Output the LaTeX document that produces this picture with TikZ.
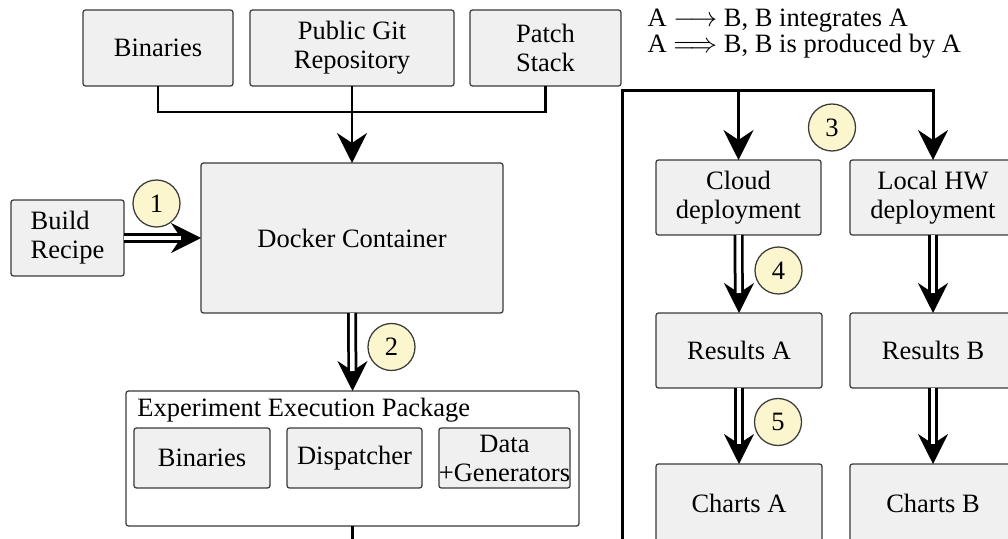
\documentclass[tikz,border=0pt]{standalone}
\usepackage{fontspec}
\setmainfont{Liberation Serif}
\newfontfamily\tnr{Liberation Serif}
\usetikzlibrary{arrows.meta,calc}

\definecolor{boxfill}{HTML}{F0F0F0}
\definecolor{boxline}{HTML}{3A3A3A}
\definecolor{stepfill}{HTML}{FCF6CF}

\tikzset{
  txt/.style={font=\tnr\fontsize{10.6}{11.6}\selectfont},
  sz/.style 2 args={minimum width=#1*0.4pt, minimum height=#2*0.4pt},
  blk/.style={draw=boxline, fill=boxfill, line width=0.5pt, rounded corners=1pt,
              inner sep=0pt, outer sep=0pt, align=center, txt},
  frame/.style={draw=boxline, fill=white, line width=0.5pt, rounded corners=1pt,
              inner sep=0pt, outer sep=0pt},
  stepnum/.style={circle, draw=boxline, fill=stepfill, line width=0.5pt,
              minimum size=18.8pt, inner sep=0pt, txt},
  conn/.style={line width=1pt},
  bigtip/.style={-{Stealth[length=12pt,width=12pt,inset=4pt]}},
  arr/.style={conn, bigtip},
  dbl/.style={double, line width=1.1pt, double distance=1.8pt, shorten >=8pt},
  tiponly/.style={line width=0.8pt, bigtip},
}

\begin{document}
\begin{tikzpicture}[x=0.4pt, y=-0.4pt]
  \clip (0,0) rectangle (1008,539);
  \fill[white] (0,0) rectangle (1008,539);

  % sources
  \node[blk, sz={150}{76}] (bin)   at (158,48)   {Binaries};
  \node[blk, sz={204}{76}] (git)   at (352,48)   {Public Git\\Repository};
  \node[blk, sz={151}{76}] (patch) at (545.5,48) {Patch\\Stack};

  % build
  \node[blk, sz={302}{150}] (docker) at (352,238) {Docker Container};
  \node[blk, sz={113}{76}, align=left] (recipe) at (67.5,238) {Build\\Recipe};

  % execution package
  \node[frame, sz={453}{135}] (pkg) at (352.5,458.5) {};
  \node[anchor=west, inner sep=0pt, txt] (pkgtitle) at (137,410) {Experiment Execution Package};
  \node[blk, sz={136}{60}] (ibin)  at (202,458)   {Binaries};
  \node[blk, sz={135}{60}] (idisp) at (354.5,458) {Dispatcher};
  \node[blk, sz={131}{60}] (idata) at (504.5,458) {Data\\+Generators};

  % deployments
  \node[blk, sz={165}{75}] (cloud) at (738.5,197.5) {Cloud\\deployment};
  \node[blk, sz={166}{75}] (local) at (933,197.5)   {Local HW\\deployment};
  \node[blk, sz={166}{75}] (resA)  at (739,350.5)   {Results A};
  \node[blk, sz={166}{75}] (resB)  at (933,350.5)   {Results B};
  \node[blk, sz={166}{78}] (chA)   at (739,503)     {Charts A};
  \node[blk, sz={166}{78}] (chB)   at (933,503)     {Charts B};

  % legend (base anchor sits on the last line)
  \node[anchor=base west, inner sep=0pt, align=left, font=\tnr\fontsize{10.6}{10.4}\selectfont] (legend) at (647,53)
    {A $\longrightarrow$ B, B integrates A\\A $\Longrightarrow$ B, B is produced by A};

  % sources into the container
  \coordinate (join) at (352,112);
  \draw[conn] (bin.south) |- (join) -| (patch.south);
  \draw[arr] (git.south) -- (docker.north);

  % recipe produces the container
  \draw[tiponly] ([xshift=-14pt]docker.west) -- (docker.west);
  \draw[dbl] (recipe.east) -- (docker.west);

  % container produces the package
  \draw[tiponly] ([yshift=14pt]pkg.north) -- (pkg.north);
  \draw[dbl] (docker.south) -- (pkg.north);

  % package feeds both deployments
  \coordinate (pkgout) at (352.5,545);
  \draw[conn] (pkg.south) -- (pkgout);
  \coordinate (fbot) at (622,545);
  \coordinate (ftop) at (622,91);
  \draw[line width=1.2pt] (fbot) -- (ftop) -| ($(local.north)+(0,-14)$);
  \draw[arr] ($(local.north)+(0,-16)$) -- (local.north);
  \draw[arr] (cloud.north |- ftop) -- (cloud.north);

  % deployments produce results, results produce charts
  \draw[tiponly] ([yshift=14pt]resA.north) -- (resA.north);
  \draw[dbl] (cloud.south) -- (resA.north);
  \draw[tiponly] ([yshift=14pt]resB.north) -- (resB.north);
  \draw[dbl] (local.south) -- (resB.north);
  \draw[tiponly] ([yshift=14pt]chA.north) -- (chA.north);
  \draw[dbl] (resA.south) -- (chA.north);
  \draw[tiponly] ([yshift=14pt]chB.north) -- (chB.north);
  \draw[dbl] (resB.south) -- (chB.north);

  % step markers
  \node[stepnum] (s1) at (156.5,203.5) {1};
  \node[stepnum] (s2) at (391.5,347)   {2};
  \node[stepnum] (s3) at (832,127.5)   {3};
  \node[stepnum] (s4) at (778.5,270.5) {4};
  \node[stepnum] (s5) at (778,422)     {5};
\end{tikzpicture}
\end{document}
